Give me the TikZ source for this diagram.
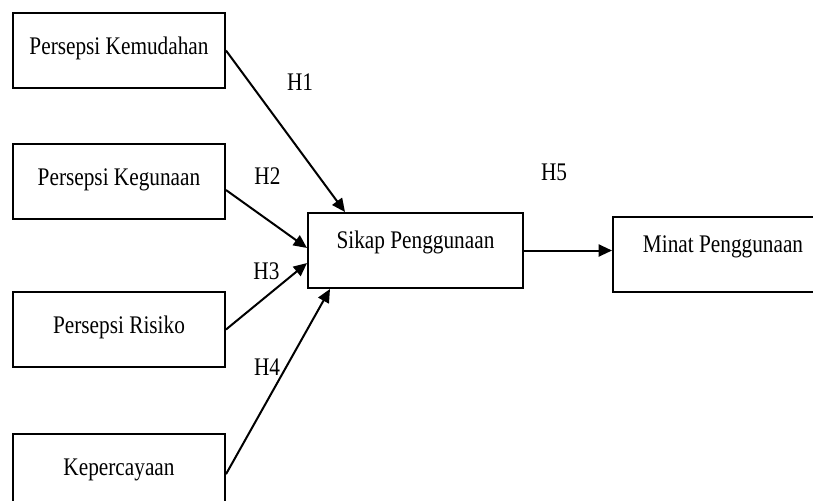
\documentclass[tikz,border=0pt]{standalone}
\usepackage{fontspec}
\setmainfont[FakeStretch=0.84]{Liberation Serif}
\usepackage{tikz}
\usetikzlibrary{arrows.meta,positioning}

\begin{document}
\begin{tikzpicture}[x=0.75pt,y=-0.75pt,
	font=\fontsize{19pt}{22pt}\selectfont,
	var/.style={draw,line width=1.5pt,rectangle,inner sep=0pt,minimum width=159pt,text height=30.75pt,text depth=25.5pt},
	dep/.style={draw,line width=1.5pt,rectangle,inner sep=0pt,minimum width=161.25pt,text height=26.25pt,text depth=30pt},
	hyp/.style={inner sep=0pt},
	>={Triangle[length=10pt,width=9pt]}]
	\useasboundingbox (0,0) rectangle (813,500);
	\clip (0,0) rectangle (813,500);

	\node[var,anchor=north west] (kemudahan) at (12,12) {Persepsi Kemudahan};
	\node[var] (kegunaan)[below=40.5pt of kemudahan] {Persepsi Kegunaan};
	\node[var] (risiko)[below=53.25pt of kegunaan] {Persepsi Risiko};
	\node[var] (percaya)[below=48.75pt of risiko] {Kepercayaan};
	\node[dep,anchor=north west] (sikap) at (307,212) {Sikap Penggunaan};
	\node[dep,minimum width=165pt] (minat)[right=66pt of sikap,yshift=-3pt] {Minat Penggunaan};

	\node[hyp] (h1) at (300,82.5) {H1};
	\node[hyp] (h2) at (267.5,176) {H2};
	\node[hyp] (h3) at (266.5,271) {H3};
	\node[hyp] (h4) at (267,367) {H4};
	\node[hyp] (h5) at (554,172) {H5};

	\path[->,line width=1.5pt]
	(kemudahan.east) edge ([xshift=28.5pt]sikap.north west)
	([yshift=-6.4pt]kegunaan.east) edge ([yshift=1.9pt]sikap.west)
	(risiko.east) edge ([yshift=-9.4pt]sikap.west)
	([yshift=-2pt]percaya.east) edge ([xshift=17.25pt]sikap.south west)
	(sikap.east) edge (sikap.east -| minat.west);
\end{tikzpicture}
\end{document}
